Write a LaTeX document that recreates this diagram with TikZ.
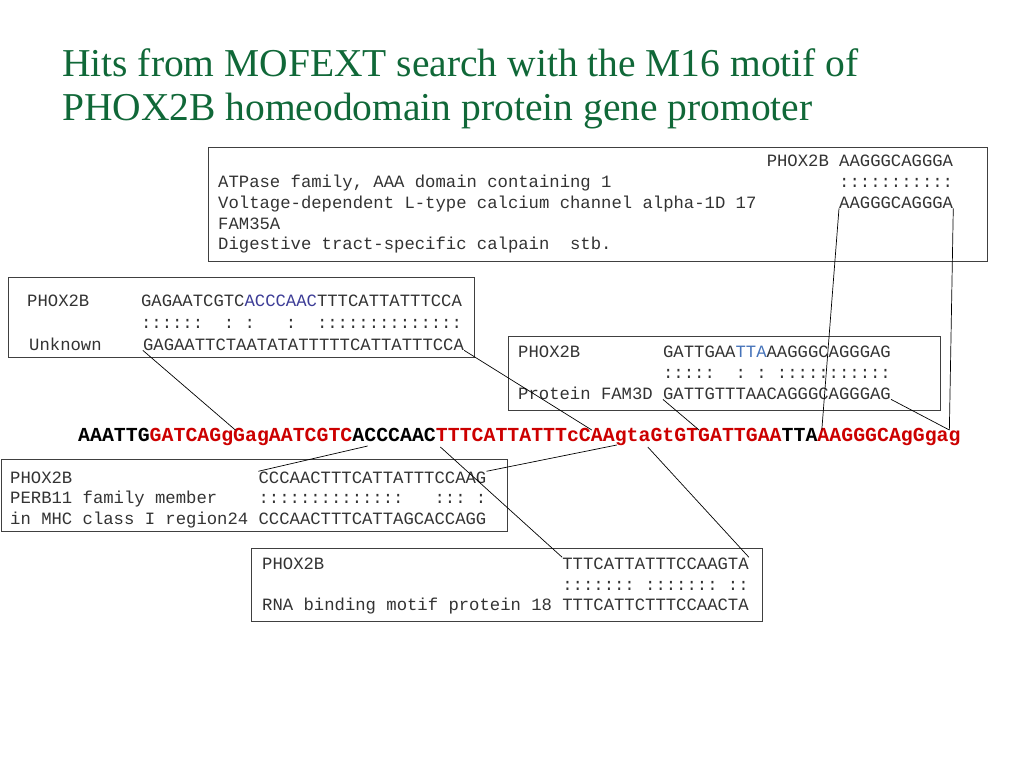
\documentclass[tikz,border=0pt]{standalone}
\usepackage{fontspec}
\setmonofont{Liberation Mono}
\newfontfamily\headfont{Liberation Serif}
\usetikzlibrary{calc}
\definecolor{titlegreen}{RGB}{16,104,56}
\definecolor{hitred}{RGB}{204,0,0}
\definecolor{navyblue}{RGB}{60,60,150}
\definecolor{lightblue}{RGB}{70,115,185}
\newcommand{\cw}{10.35}
\newcommand{\cwb}{11.92}
\newcommand{\nm}{\phantom{:}}

\begin{document}
\begin{tikzpicture}[x=1pt,y=-1pt,
  box/.style={draw=black!75,line width=0.9pt,anchor=north west,inner sep=0},
  txt/.style={anchor=base west,inner sep=0,text=black!80,font=\fontsize{17.25}{20}\selectfont\ttfamily\frenchspacing},
  dna/.style={anchor=base west,inner sep=0,font=\fontsize{19.87}{24}\selectfont\ttfamily\bfseries},
  head/.style={anchor=base west,inner sep=0,text=titlegreen,font=\fontsize{39.5}{44}\selectfont\headfont},
  hit/.style={line width=0.7pt}]
\useasboundingbox (0,0) rectangle (1024,768);

\node[head] (title1) at (62,77) {Hits from MOFEXT search with the M16 motif of};
\node[head] (title2) at (62,120) {PHOX2B homeodomain protein gene promoter};

% boxes
\node[box,minimum width=779pt,minimum height=114pt] (topbox) at (208,147) {};
\node[box,minimum width=466pt,minimum height=80pt] (leftbox) at (8,277) {};
\node[box,minimum width=432pt,minimum height=74pt] (midbox) at (508,336) {};
\node[box,minimum width=506pt,minimum height=72pt] (lowbox) at (1,459) {};
\node[box,minimum width=511pt,minimum height=73pt] (botbox) at (251,548) {};

% top box
\node[txt] (t1) at ({218+53*\cw},166) {PHOX2B AAGGGCAGGGA};
\node[txt] (t2) at (218,187) {ATPase family, AAA domain containing 1};
\node[txt] (t2m) at ({218+60*\cw},187) {:::::::::::};
\node[txt] (t3) at (218,208) {Voltage-dependent L-type calcium channel alpha-1D 17};
\node[txt] (t3s) at ({218+60*\cw},208) {AAGGGCAGGGA};
\node[txt] (t4) at (218,229) {FAM35A};
\node[txt] (t5) at (218,249) {Digestive tract-specific calpain\ \ stb.};

% left box
\node[txt] (l1) at (27,306) {PHOX2B};
\node[txt] (l1s) at ({27+11*\cw},306) {GAGAATCGTC\textcolor{navyblue}{ACCCAAC}TTTCATTATTTCCA};
\node[txt] (l2m) at ({27+11*\cw},328) {::::::\nm\nm:\nm:\nm\nm\nm:\nm\nm::::::::::::::};
\node[txt] (l3) at (29,350) {Unknown};
\node[txt] (l3s) at ({29+11*\cw},350) {GAGAATTCTAATATATTTTTCATTATTTCCA};

% middle box
\node[txt] (m1) at (518,357) {PHOX2B};
\node[txt] (m1s) at ({518+14*\cw},357) {GATTGAA\textcolor{lightblue}{TTA}AAGGGCAGGGAG};
\node[txt] (m2m) at ({518+14*\cw},378) {:::::\nm\nm:\nm:\nm:::::::::::};
\node[txt] (m3) at (518,399) {Protein FAM3D};
\node[txt] (m3s) at ({518+14*\cw},399) {GATTGTTTAACAGGGCAGGGAG};

% the promoter
\node[dna] (dna) at (78,441) {AAATTG\textcolor{hitred}{GATCAGgGagAATCGTC}ACCCAAC\textcolor{hitred}{TTTCATTATTTcCAAgtaGtGTGATTGAA}TTA\textcolor{hitred}{AAGGGCAgGgag}};
\coordinate (c13) at ($(dna.base west)+({13.2*\cwb},-11)$);
\coordinate (c43) at ($(dna.base west)+({43.1*\cwb},-11)$);
\coordinate (c52) at ($(dna.base west)+({52.1*\cwb},-11)$);
\coordinate (c62) at ($(dna.base west)+({62.4*\cwb},-11)$);
\coordinate (c73) at ($(dna.base west)+({73.1*\cwb},-11)$);
\coordinate (d24) at ($(dna.base west)+({24.3*\cwb},5)$);
\coordinate (d30) at ($(dna.base west)+({30.4*\cwb},6)$);
\coordinate (d45) at ($(dna.base west)+({45.2*\cwb},4)$);
\coordinate (d47) at ($(dna.base west)+({47.8*\cwb},6)$);

% lower left box
\node[txt] (b1) at (10,483) {PHOX2B};
\node[txt] (b1s) at ({10+24*\cw},483) {CCCAACTTTCATTATTTCCAAG};
\node[txt] (b2) at (10,503) {PERB11 family member};
\node[txt] (b2m) at ({10+24*\cw},503) {::::::::::::::\nm\nm\nm:::\nm:};
\node[txt] (b3) at (10,524) {in MHC class I region24};
\node[txt] (b3s) at ({10+24*\cw},524) {CCCAACTTTCATTAGCACCAGG};

% bottom box
\node[txt] (r1) at (262,569) {PHOX2B};
\node[txt] (r1s) at ({262+29*\cw},569) {TTTCATTATTTCCAAGTA};
\node[txt] (r2m) at ({262+29*\cw},590) {:::::::\nm:::::::\nm::};
\node[txt] (r3) at (262,610) {RNA binding motif protein 18};
\node[txt] (r3s) at ({262+29*\cw},610) {TTTCATTCTTTCCAACTA};

% hits
\draw[hit] (t3s.south west) -- (c62);
\draw[hit] (t3s.south east) -- (c73);
\draw[hit] (l3s.south west) -- (c13);
\draw[hit] (l3s.south east) -- (c43);
\draw[hit] (m3s.south west) -- (c52);
\draw[hit] (m3s.south east) -- (c73);
\draw[hit] (b1s.north west) -- (d24);
\draw[hit] (b1s.north east) -- (d45);
\draw[hit] (r1s.north west) -- (d30);
\draw[hit] (r1s.north east) -- (d47);
\end{tikzpicture}
\end{document}
